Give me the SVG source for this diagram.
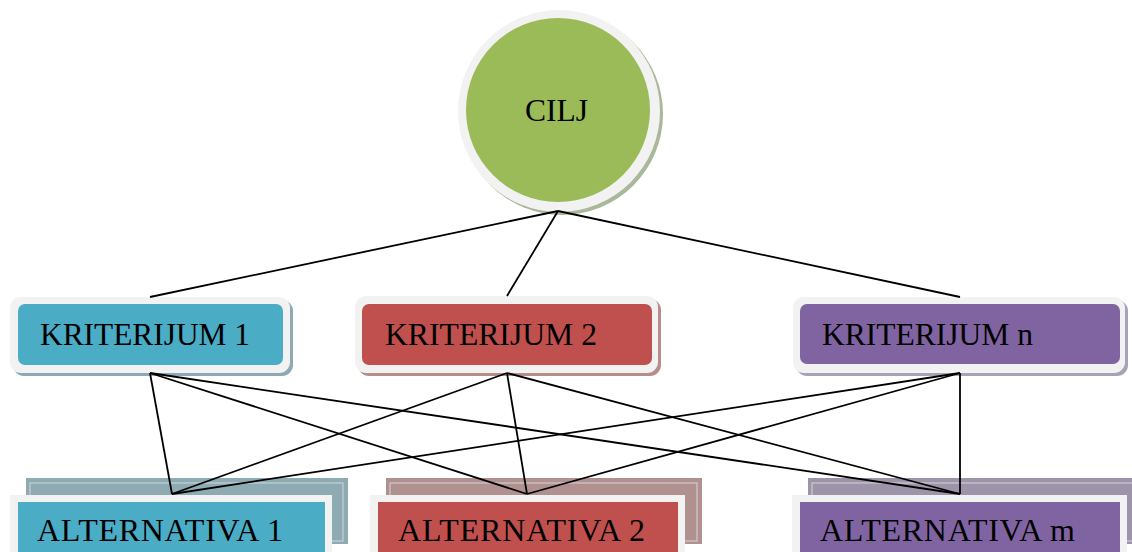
<svg xmlns="http://www.w3.org/2000/svg" width="1132" height="552" viewBox="0 0 1132 552">
  <style>
    .label { font-family: "Liberation Serif", "Times New Roman", serif; font-size: 32px; fill: #000; }
    .ring { fill: #f2f2f2; }
    .edge { stroke: #000; stroke-width: 1.8; fill: none; }
    .inset { fill: none; stroke: #dde3e6; stroke-width: 1.2; opacity: 0.7; }
  </style>
  <rect width="1132" height="552" fill="#ffffff"/>

  <!-- goal -->
  <g id="cilj">
    <circle cx="562" cy="114" r="101" fill="#a9b898"/>
    <circle cx="559" cy="111" r="101" class="ring"/>
    <circle cx="558" cy="110" r="92" fill="#9bbb59"/>
    <text x="525" y="121" textLength="63" lengthAdjust="spacingAndGlyphs" class="label">CILJ</text>
  </g>

  <!-- criteria -->
  <g id="kriterijum1">
    <rect x="13" y="300" width="280" height="76" rx="11" fill="#8ea9b5"/>
    <rect x="10" y="297" width="280" height="76" rx="11" class="ring"/>
    <rect x="18" y="304" width="265" height="61" rx="7" fill="#4bacc6"/>
    <text x="40" y="345" textLength="210" lengthAdjust="spacingAndGlyphs" class="label">KRITERIJUM 1</text>
  </g>
  <g id="kriterijum2">
    <rect x="358" y="299" width="303" height="77" rx="11" fill="#b58d8b"/>
    <rect x="355" y="296" width="303" height="77" rx="11" class="ring"/>
    <rect x="362" y="304" width="290" height="61" rx="7" fill="#c0504d"/>
    <text x="385" y="345" textLength="212" lengthAdjust="spacingAndGlyphs" class="label">KRITERIJUM 2</text>
  </g>
  <g id="kriterijumN">
    <rect x="796" y="300" width="332" height="76" rx="11" fill="#a9a2b4"/>
    <rect x="793" y="297" width="332" height="76" rx="11" class="ring"/>
    <rect x="800" y="304" width="320" height="60" rx="7" fill="#8064a2"/>
    <text x="822" y="345" textLength="211" lengthAdjust="spacingAndGlyphs" class="label">KRITERIJUM n</text>
  </g>

  <!-- alternatives -->
  <g id="alternativa1">
    <rect x="26" y="478" width="322" height="66" fill="#8eaab3"/>
    <rect x="30" y="483" width="313" height="58" class="inset"/>
    <rect x="10" y="495" width="322" height="70" class="ring"/>
    <rect x="18" y="502" width="307" height="60" fill="#4bacc6"/>
    <text x="37" y="541" textLength="246" lengthAdjust="spacing" class="label">ALTERNATIVA 1</text>
  </g>
  <g id="alternativa2">
    <rect x="386" y="478" width="316" height="66" fill="#b09190"/>
    <rect x="390" y="483" width="307" height="58" class="inset"/>
    <rect x="370" y="495" width="315" height="70" class="ring"/>
    <rect x="378" y="502" width="300" height="60" fill="#c0504d"/>
    <text x="398" y="541" textLength="247" lengthAdjust="spacing" class="label">ALTERNATIVA 2</text>
  </g>
  <g id="alternativaM">
    <rect x="808" y="478" width="330" height="66" fill="#9e94a9"/>
    <rect x="812" y="483" width="330" height="58" class="inset"/>
    <rect x="792" y="495" width="335" height="70" class="ring"/>
    <rect x="800" y="502" width="320" height="60" fill="#8064a2"/>
    <text x="820" y="541" textLength="255" lengthAdjust="spacing" class="label">ALTERNATIVA m</text>
  </g>

  <!-- connectors -->
  <g id="connectors">
    <line class="edge" x1="558" y1="211" x2="150" y2="297"/>
    <line class="edge" x1="558" y1="211" x2="507" y2="296"/>
    <line class="edge" x1="558" y1="211" x2="960" y2="297"/>

    <line class="edge" x1="150" y1="373" x2="172" y2="494"/>
    <line class="edge" x1="150" y1="373" x2="527" y2="494"/>
    <line class="edge" x1="150" y1="373" x2="960" y2="494"/>

    <line class="edge" x1="507" y1="373" x2="172" y2="494"/>
    <line class="edge" x1="507" y1="373" x2="527" y2="494"/>
    <line class="edge" x1="507" y1="373" x2="960" y2="494"/>

    <line class="edge" x1="960" y1="373" x2="172" y2="494"/>
    <line class="edge" x1="960" y1="373" x2="527" y2="494"/>
    <line class="edge" x1="960" y1="373" x2="960" y2="494"/>
  </g>
</svg>
